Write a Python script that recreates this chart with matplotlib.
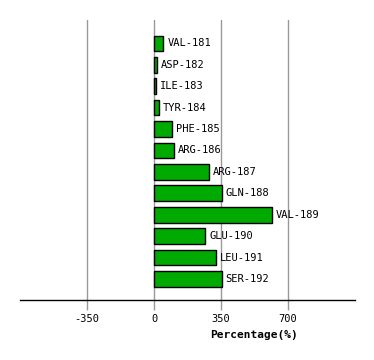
import matplotlib

matplotlib.use("Agg")
import matplotlib.pyplot as plt

residues = ["VAL-181", "ASP-182", "ILE-183", "TYR-184", "PHE-185", "ARG-186",
            "ARG-187", "GLN-188", "VAL-189", "GLU-190", "LEU-191", "SER-192"]
percentages = [49, 16, 10, 26, 96, 102, 285, 354, 616, 268, 322, 354]
xticks = [-350, 0, 350, 700]

plt.rcParams["axes.unicode_minus"] = False
plt.rcParams["font.family"] = "DejaVu Sans Mono"

fig = plt.figure(figsize=(3.74, 3.60), dpi=100)
ax = fig.add_axes([20 / 374, 60 / 360, 335 / 374, 280 / 360])

y = list(range(len(residues)))
ax.barh(y, percentages, height=0.73, color="#00AA00", edgecolor="black", linewidth=1.0, zorder=3)
for yi, val, name in zip(y, percentages, residues):
    ax.text(val + 20, yi, name, va="center", ha="left", fontsize=7.5, color="black", zorder=4)

ax.set_xlim(-700, 1050)
ax.set_ylim(11.98, -1.09)
ax.set_yticks([])
ax.set_xticks(xticks)
ax.set_xticklabels([str(t) for t in xticks])
ax.grid(axis="x", color="#999999", linewidth=1.0, zorder=0)
ax.tick_params(axis="x", colors="#999999", length=7, width=1.0, labelsize=7.5, labelcolor="black", pad=3)
for side in ("left", "right", "top"):
    ax.spines[side].set_visible(False)
ax.spines["bottom"].set_color("black")
ax.spines["bottom"].set_linewidth(1.0)
ax.spines["bottom"].set_zorder(5)

ax.text(0.70, -0.125, "Percentage(%)", transform=ax.transAxes, ha="center", va="center",
        fontsize=8, fontweight="bold", color="black")

fig.savefig("out.png", dpi=100, facecolor="white")
